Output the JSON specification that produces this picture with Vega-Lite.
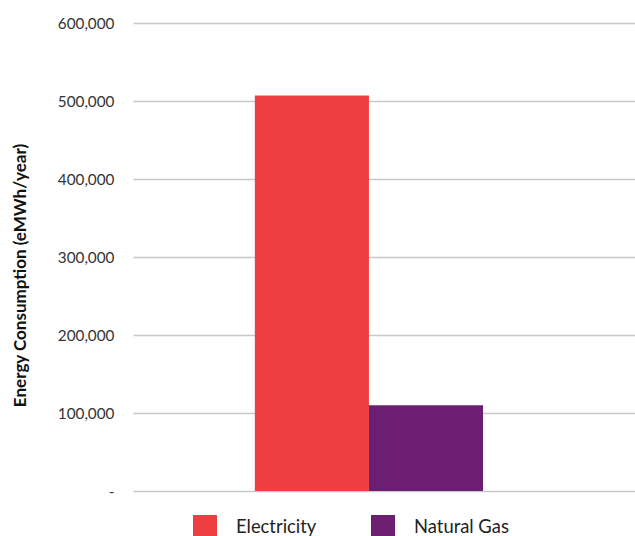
{
  "$schema": "https://vega.github.io/schema/vega-lite/v6.json",
  "autosize": {"type": "none"},
  "width": 502,
  "height": 468,
  "padding": {"left": 133, "top": 23, "right": 0, "bottom": 45},
  "background": "white",
  "config": {
    "view": {"stroke": null},
    "font": "Lato"
  },
  "data": {
    "values": [
      {"group": "Total", "source": "Electricity", "consumption": 507000},
      {"group": "Total", "source": "Natural Gas", "consumption": 110000}
    ]
  },
  "mark": {"type": "bar"},
  "encoding": {
    "x": {
      "field": "group",
      "type": "nominal",
      "scale": {"paddingInner": 0, "paddingOuter": 0.6, "align": 0.445},
      "axis": null
    },
    "xOffset": {
      "field": "source",
      "type": "nominal",
      "scale": {"paddingInner": 0, "paddingOuter": 0}
    },
    "y": {
      "field": "consumption",
      "type": "quantitative",
      "scale": {"domain": [0, 600000], "nice": false},
      "axis": {
        "title": "Energy Consumption (eMWh/year)",
        "titleFont": "Lato",
        "titleFontSize": 17,
        "titleFontWeight": "bold",
        "titleColor": "#111111",
        "titleX": -113,
        "titleY": 252,
        "titleAlign": "center",
        "titleAngle": -90,
        "titleBaseline": "middle",
        "values": [0, 100000, 200000, 300000, 400000, 500000, 600000],
        "labelExpr": "datum.value == 0 ? '-' : format(datum.value, ',')",
        "labelFont": "Lato",
        "labelFontSize": 15.3,
        "labelColor": "#333333",
        "labelPadding": 19,
        "ticks": false,
        "domain": false,
        "grid": true,
        "gridColor": "#c8c8c8",
        "gridWidth": 1.5
      }
    },
    "color": {
      "field": "source",
      "type": "nominal",
      "scale": {"domain": ["Electricity", "Natural Gas"], "range": ["#EF3E42", "#6C1F72"]},
      "legend": {
        "title": null,
        "orient": "none",
        "direction": "horizontal",
        "legendX": 60,
        "legendY": 492,
        "symbolType": "square",
        "symbolSize": 576,
        "symbolStrokeWidth": 0,
        "symbolOpacity": 1,
        "labelFont": "Lato",
        "labelFontSize": 18.4,
        "labelColor": "#222222",
        "labelOffset": 19,
        "columnPadding": 54
      }
    }
  }
}
